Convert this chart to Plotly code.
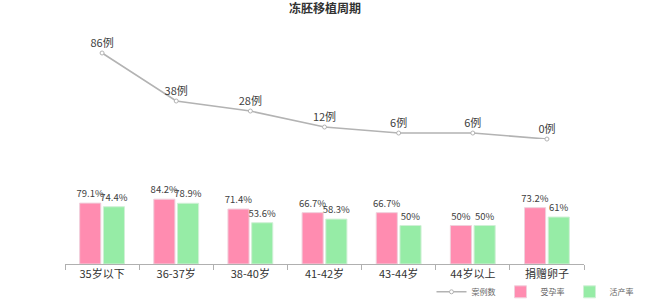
import plotly.graph_objects as go

categories = ["35岁以下", "36-37岁", "38-40岁", "41-42岁", "43-44岁", "44岁以上", "捐赠卵子"]
cases = [86, 38, 28, 12, 6, 6, 0]
pregnancy_rate = [79.1, 84.2, 71.4, 66.7, 66.7, 50, 73.2]
live_birth_rate = [74.4, 78.9, 53.6, 58.3, 50, 50, 61]

FONT = "Noto Sans CJK SC, Verdana, sans-serif"
TXT = "#404040"

fig = go.Figure()
fig.add_trace(go.Scatter(
    x=categories, y=cases, name="案例数", yaxis="y2",
    mode="lines+markers+text",
    line=dict(color="#b3b3b3", width=1.6),
    marker=dict(symbol="circle", size=4, color="white", line=dict(color="#b3b3b3", width=1)),
    text=[f"{v}例" for v in cases], textposition="top center",
    textfont=dict(size=11, color=TXT, family=FONT), cliponaxis=False,
))
fig.add_trace(go.Bar(
    x=categories, y=pregnancy_rate, name="受孕率",
    marker=dict(color="#ff8cb0", line=dict(color="#f0d0dc", width=1)),
    text=[f"{v:g}%" for v in pregnancy_rate], textposition="outside", constraintext="none",
    textfont=dict(size=9.5, color=TXT, family=FONT), cliponaxis=False,
))
fig.add_trace(go.Bar(
    x=categories, y=live_birth_rate, name="活产率",
    marker=dict(color="#96eca6", line=dict(color="#d0f0d6", width=1)),
    text=[f"{v:g}%" for v in live_birth_rate], textposition="outside", constraintext="none",
    textfont=dict(size=9.5, color=TXT, family=FONT), cliponaxis=False,
))

fig.update_layout(
    width=650, height=299,
    margin=dict(l=65, r=66, t=30, b=35, autoexpand=False),
    paper_bgcolor="white", plot_bgcolor="white",
    font=dict(family=FONT, color=TXT, size=11),
    title=dict(text="<b>冻胚移植周期</b>", x=0.5, xanchor="center", y=0.985, yanchor="top",
               font=dict(size=12, color="#333333", family=FONT)),
    barmode="group", bargap=0.36, bargroupgap=0.11,
    showlegend=True,
    legend=dict(orientation="h", x=1.105, xanchor="right", yref="container", y=0.024, yanchor="middle",
                font=dict(size=8, color="#666666", family=FONT), itemwidth=30,
                entrywidth=24, entrywidthmode="pixels", tracegroupgap=0,
                traceorder="normal", bgcolor="rgba(0,0,0,0)"),
    xaxis=dict(type="category", showline=True, linecolor="#b0b0b0", linewidth=1,
               ticks="outside", tickson="boundaries", ticklen=5, tickcolor="#b0b0b0",
               showgrid=False, automargin=False,
               tickfont=dict(size=11, color="#333333", family=FONT)),
    yaxis=dict(domain=[0, 0.329], range=[0, 100], visible=False, showgrid=False),
    yaxis2=dict(domain=[0.534, 0.9615], range=[0, 100], visible=False, showgrid=False,
                anchor="x"),
)

fig.write_html("out.html")
